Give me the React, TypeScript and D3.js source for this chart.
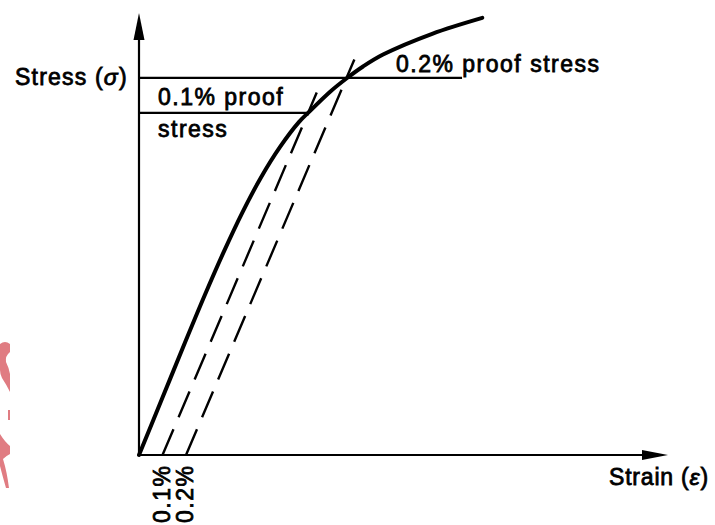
import React, { useRef, useEffect } from "react";
import * as d3 from "d3";

// stress-strain curve, strain in %, stress in arbitrary units (0-100)
const curveStrain = [0, 0.1, 0.2, 0.28, 0.36, 0.44, 0.52, 0.6, 0.68, 0.719, 0.813, 0.885, 0.953, 1.038, 1.247, 1.46];
const curveStress = [0, 13, 26, 36.2, 45.9, 54.9, 62.9, 69.7, 75.3, 77.4, 82.2, 85.3, 87.9, 90.6, 95.3, 98.9];

// offset lines (proof stress construction)
const offsetLabels = ["0.1%", "0.2%"];
const offsetStrain = [0.1, 0.2];
const offsetEndStress = [82, 89.5];
const modulus = 125; // slope of elastic part

// proof stress levels and how far the horizontal line runs
const proofStress = [77.4, 85.3];
const proofLineEnd = [0.719, 1.374];

const width = 715;
const height = 525;

const App = () => {
  const svgRef = useRef<SVGSVGElement>(null);

  useEffect(() => {
    const svg = d3.select(svgRef.current).attr("width", width).attr("height", height);
    svg.selectAll("*").remove();

    const x = d3.scaleLinear().domain([0, 2.25]).range([139, 668]);
    const y = d3.scaleLinear().domain([0, 100]).range([455, 13]);

    const font = "'Liberation Sans', Arial, Helvetica, sans-serif";

    // faint watermark remnant on the left edge
    const pink = "#e07c82";
    svg.append("path")
      .attr("d", "M0,344 Q5,340 10,344 L10,352 Q5,356 6,362 Q9,368 10,374 L10,392 Q6,384 2,378 Q0,374 0,370 Z")
      .attr("fill", pink);
    svg.append("path")
      .attr("d", "M8,410 L10,410 L10,420 L8,420 Z")
      .attr("fill", pink);
    svg.append("path")
      .attr("d", "M0,434 Q5,442 10,446 L10,454 Q6,456 3,459 Q7,472 9,488 L6,488 Q2,474 0,466 Z")
      .attr("fill", pink);

    // axes
    svg.append("line")
      .attr("x1", x(0)).attr("x2", x(0))
      .attr("y1", y(0)).attr("y2", y(100) + 20)
      .attr("stroke", "#000").attr("stroke-width", 2.2);
    svg.append("path")
      .attr("d", `M${x(0)},${y(100)} L${x(0) - 5.5},${y(100) + 27} L${x(0) + 5.5},${y(100) + 27} Z`)
      .attr("fill", "#000");

    svg.append("line")
      .attr("x1", x(0)).attr("x2", x(2.25) - 20)
      .attr("y1", y(0)).attr("y2", y(0))
      .attr("stroke", "#000").attr("stroke-width", 2.2);
    svg.append("path")
      .attr("d", `M${x(2.25)},${y(0)} L${x(2.25) - 26},${y(0) - 5} L${x(2.25) - 26},${y(0) + 5} Z`)
      .attr("fill", "#000");

    // horizontal proof stress lines
    proofStress.forEach((s, i) => {
      svg.append("line")
        .attr("x1", x(0)).attr("x2", x(proofLineEnd[i]))
        .attr("y1", y(s)).attr("y2", y(s))
        .attr("stroke", "#000").attr("stroke-width", 2.2);
    });

    // dashed offset lines parallel to elastic slope
    offsetStrain.forEach((o, i) => {
      const s1 = offsetEndStress[i];
      svg.append("line")
        .attr("x1", x(o)).attr("y1", y(0))
        .attr("x2", x(o + s1 / modulus)).attr("y2", y(s1))
        .attr("stroke", "#000").attr("stroke-width", 2.4)
        .attr("stroke-dasharray", "28 13");
    });

    // main curve
    const pts = curveStrain.map((e, i) => [e, curveStress[i]] as [number, number]);
    const line = d3.line<[number, number]>()
      .x((d) => x(d[0]))
      .y((d) => y(d[1]))
      .curve(d3.curveCatmullRom.alpha(0.5));
    svg.append("path")
      .attr("d", line(pts))
      .attr("fill", "none")
      .attr("stroke", "#000")
      .attr("stroke-width", 4)
      .attr("stroke-linecap", "round");

    // labels
    const label = (tx: number, ty: number, ls = 1.5) =>
      svg.append("text")
        .attr("x", tx).attr("y", ty)
        .attr("font-family", font)
        .attr("font-size", 23)
        .attr("letter-spacing", ls)
        .attr("fill", "#000")
        .attr("stroke", "#000")
        .attr("stroke-width", 0.8);

    const st = label(15, 85, 1.2);
    st.append("tspan").text("Stress (");
    st.append("tspan").attr("font-style", "italic").text("σ");
    st.append("tspan").text(")");

    label(396, 72).text("0.2% proof stress");
    label(158, 105).text("0.1% proof");
    label(158, 137).text("stress");

    const sn = label(609, 485, 0.8);
    sn.append("tspan").text("Strain (");
    sn.append("tspan").attr("font-style", "italic").text("ε");
    sn.append("tspan").text(")");

    offsetStrain.forEach((o, i) => {
      svg.append("text")
        .attr("transform", `translate(${x(o) + 7},523) rotate(-90)`)
        .attr("font-family", font)
        .attr("font-size", 23)
        .attr("letter-spacing", 1.5)
        .attr("fill", "#000")
        .attr("stroke", "#000")
        .attr("stroke-width", 0.8)
        .text(offsetLabels[i]);
    });
  }, []);

  return <svg ref={svgRef} style={{ position: "absolute", left: 0, top: 0, background: "#fff" }}></svg>;
};

export default App;
